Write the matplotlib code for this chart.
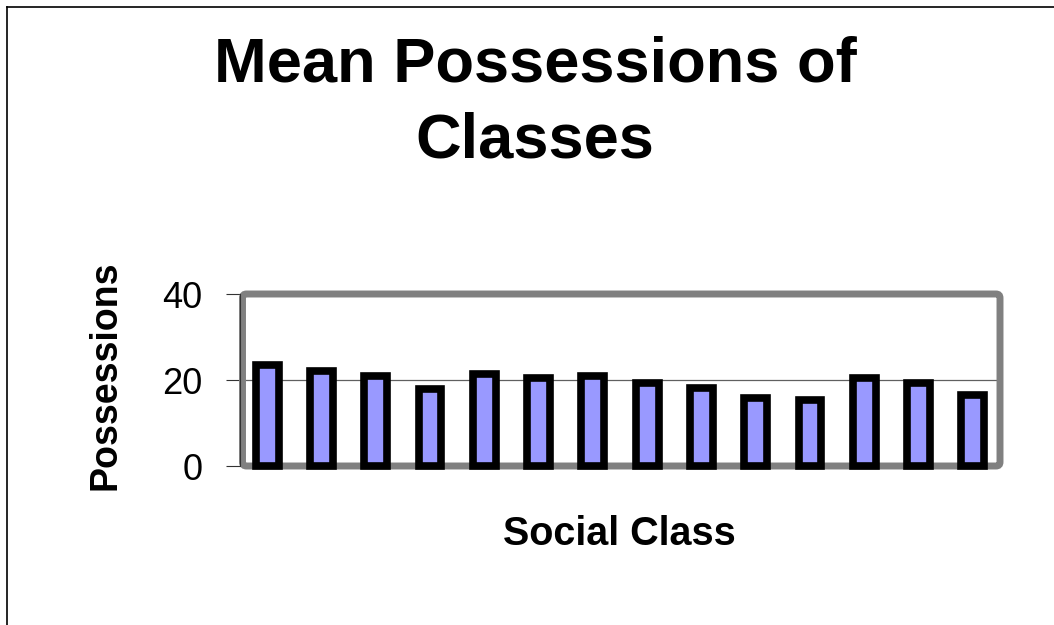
import numpy as np
import matplotlib
matplotlib.use('Agg')
import matplotlib.pyplot as plt
from matplotlib.patches import FancyBboxPatch
from matplotlib.lines import Line2D

plt.rcParams['font.family'] = ['Liberation Sans', 'DejaVu Sans']

# ---------- data ----------
classes = list(range(1, 15))     # 14 social classes, no tick labels shown
possessions = [23.4, 22.1, 21.0, 17.8, 21.4, 20.5, 21.0,
               19.3, 18.2, 15.8, 15.4, 20.5, 19.3, 16.6]
y_ticks = [0, 20, 40]

W, H = 1054, 625
fig = plt.figure(figsize=(W / 100, H / 100), dpi=100)
fig.patch.set_facecolor('white')

# plot area in pixels: x 240..1000, y 294..466
ax = fig.add_axes([240 / W, 1 - 466 / H, 760 / W, 172 / H])
x = np.arange(len(classes))
ax.bar(x, possessions, width=0.42, color='#9999FF', edgecolor='black',
       linewidth=5.5, zorder=3, clip_on=False)
ax.set_xlim(-0.5, len(classes) - 0.5)
ax.set_ylim(0, 40)
ax.set_xticks([])
ax.set_yticks(y_ticks)
ax.tick_params(axis='y', length=10, width=0.8, pad=17, labelsize=26,
               direction='out', color='#333333')
for s in ['top', 'right', 'bottom']:
    ax.spines[s].set_visible(False)
ax.spines['left'].set_linewidth(0.8)
ax.spines['left'].set_color('#333333')
ax.spines['left'].set_zorder(2.5)
ax.axhline(20, color='#606060', lw=0.9, zorder=1)

# grey rounded frame of the plot area
frame = FancyBboxPatch((2.425, 1.59), 10.0 - 2.425, 1.72,
                       boxstyle='round,pad=0,rounding_size=0.04',
                       transform=fig.dpi_scale_trans, fill=False,
                       ec='#808080', lw=5, zorder=2, clip_on=False)
ax.add_patch(frame)

ax.set_ylabel('Possessions', fontsize=27, fontweight='bold', va='center')
ax.yaxis.set_label_coords((106 - 240) / 760, 0.526)
ax.set_xlabel('Social Class', fontsize=28.5, fontweight='bold', va='baseline')
ax.xaxis.set_label_coords((619 - 240) / 760, (466 - 545) / 172)

# va='baseline' on a two-line text aligns the last line
fig.text(535 / W, 1 - 158 / H, 'Mean Possessions of\nClasses',
         ha='center', va='baseline', fontsize=45.5, fontweight='bold',
         linespacing=1.39)

# thin black border of the slide (left and top)
fig.add_artist(Line2D([7 / W, 7 / W], [0, 1 - 7 / H], color='black', lw=1.2,
                      transform=fig.transFigure))
fig.add_artist(Line2D([7 / W, 1], [1 - 7 / H, 1 - 7 / H], color='black', lw=1.2,
                      transform=fig.transFigure))

fig.savefig('out.png', dpi=100)
